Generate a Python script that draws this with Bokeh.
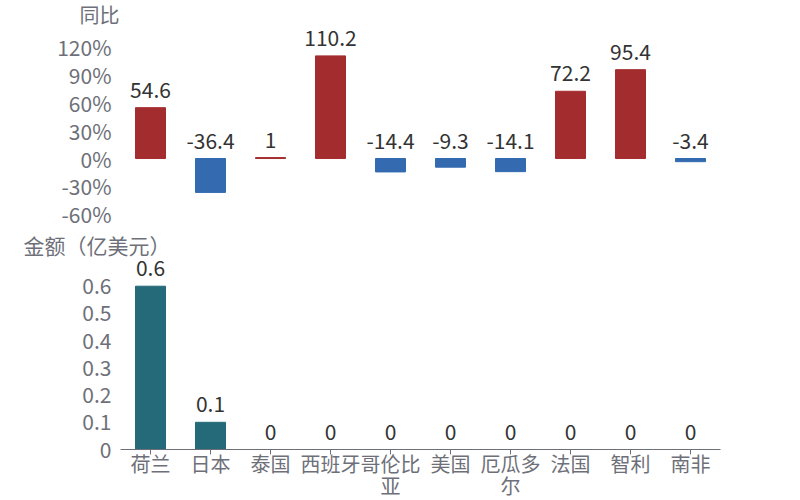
from bokeh.plotting import figure
from bokeh.layouts import column
from bokeh.models import ColumnDataSource, FixedTicker, Range1d, PrintfTickFormatter, CustomJSTickFormatter
from bokeh.core.properties import value
from bokeh.embed import file_html
from bokeh.resources import INLINE

countries = ["荷兰", "日本", "泰国", "西班牙", "哥伦比\n亚", "美国", "厄瓜多\n尔", "法国", "智利", "南非"]
yoy = [54.6, -36.4, 1, 110.2, -14.4, -9.3, -14.1, 72.2, 95.4, -3.4]
amount = [0.6, 0.1, 0, 0, 0, 0, 0, 0, 0, 0]
yoy_ticks = [-60, -30, 0, 30, 60, 90, 120]
amount_ticks = [0, 0.1, 0.2, 0.3, 0.4, 0.5, 0.6]

RED = "#A32D2E"
BLUE = "#336AB0"
TEAL = "#256A79"
GRAY = "#6E7079"
DARK = "#333333"
FONT = "Noto Sans CJK SC"
TIGHT_FONT = "Lato, 'Noto Sans CJK SC'"
AXIS_FONT = "'Liberation Sans', 'Noto Sans CJK SC'"


def fmt(v):
    return f"{v:g}"


src1 = ColumnDataSource(dict(
    country=countries,
    yoy=yoy,
    color=[RED if v >= 0 else BLUE for v in yoy],
    label=[fmt(v) for v in yoy],
    ly=[max(v, 0) for v in yoy],
))
src2 = ColumnDataSource(dict(
    country=countries,
    amount=amount,
    color=[TEAL for _ in amount],
    label=[fmt(v) for v in amount],
))


def style(p):
    p.outline_line_color = None
    p.xgrid.visible = False
    p.ygrid.visible = False
    p.background_fill_color = None
    p.border_fill_color = "white"
    p.yaxis.axis_line_color = None
    p.yaxis.major_tick_line_color = None
    p.yaxis.minor_tick_line_color = None
    p.yaxis.major_tick_out = 0
    p.yaxis.minor_tick_out = 0
    p.yaxis.major_label_text_font = FONT
    p.yaxis.major_label_text_font_size = "21px"
    p.yaxis.major_label_text_color = GRAY
    p.yaxis.major_label_standoff = 9
    p.title.text_font = TIGHT_FONT
    p.title.text_font_size = "20px"
    p.title.text_font_style = "normal"
    p.title.text_color = GRAY
    p.title.align = "left"
    p.title.standoff = 0


# top chart: YoY
p1 = figure(width=800, height=230, x_range=countries, y_range=Range1d(-68.7, 139.6),
            output_backend="svg", toolbar_location=None, title="同比",
            min_border_left=120, min_border_right=80, min_border_top=28, min_border_bottom=8)
style(p1)
p1.title.offset = -41
p1.title.vertical_align = "top"
p1.xaxis.visible = False
p1.yaxis.ticker = FixedTicker(ticks=yoy_ticks)
p1.yaxis.formatter = PrintfTickFormatter(format="%d%%")
p1.vbar(x="country", top="yoy", bottom=0, width=0.5, fill_color="color",
        line_color="color", source=src1)
p1.text(x="country", y="ly", text="label", source=src1, text_align="center",
        text_baseline="alphabetic", y_offset=-18, text_font=value(FONT),
        text_font_size="21px", text_color=DARK)

# bottom chart: amount
p2 = figure(width=800, height=270, x_range=countries, y_range=Range1d(0, 0.7055),
            output_backend="svg", toolbar_location=None, title="金额（亿美元）",
            min_border_left=120, min_border_right=80, min_border_top=26, min_border_bottom=40)
style(p2)
p2.title.offset = -97
p2.title.text_font_size = "21px"
p2.yaxis.ticker = FixedTicker(ticks=amount_ticks)
p2.yaxis.formatter = CustomJSTickFormatter(code="return String(Math.round(tick*10)/10);")
p2.xaxis.axis_line_color = GRAY
p2.xaxis.major_tick_line_color = GRAY
p2.xaxis.major_tick_out = 5
p2.xaxis.major_tick_in = 0
p2.xaxis.major_label_standoff = -1
p2.xaxis.major_label_text_font = AXIS_FONT
p2.xaxis.major_label_text_font_size = "20px"
p2.xaxis.major_label_text_color = GRAY
p2.xaxis.major_label_text_line_height = 1.0
p2.vbar(x="country", top="amount", bottom=0, width=0.5, fill_color="color",
        line_color="color", source=src2)
p2.text(x="country", y="amount", text="label", source=src2, text_align="center",
        text_baseline="alphabetic", y_offset=-18, text_font=value(FONT),
        text_font_size="21px", text_color=DARK)

layout = column(p1, p2, spacing=0)
open("out.html", "w").write(file_html(layout, INLINE))
